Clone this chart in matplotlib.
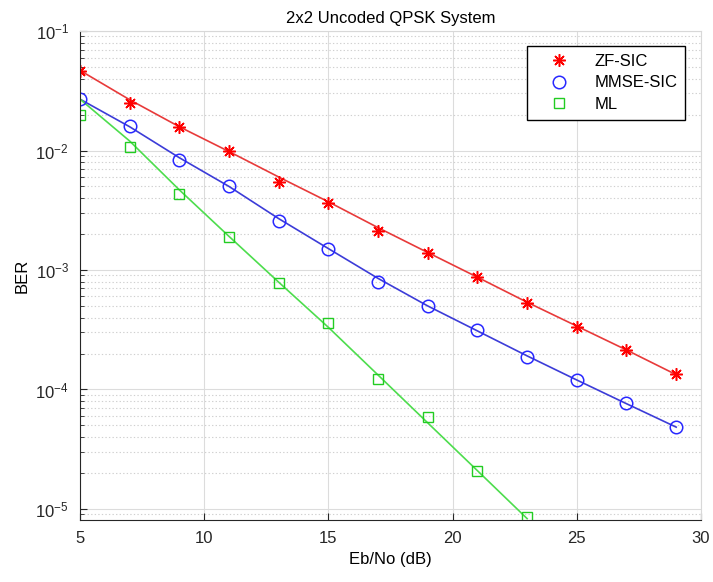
import matplotlib
matplotlib.use("Agg")
import matplotlib.pyplot as plt
import numpy as np
from matplotlib.ticker import LogLocator, NullFormatter

plt.rcParams['font.family'] = ['Liberation Sans', 'DejaVu Sans']
plt.rcParams['font.size'] = 12

# Eb/No points (dB)
ebno = [5, 7, 9, 11, 13, 15, 17, 19, 21, 23, 25, 27, 29]
ebno_ml = [5, 7, 9, 11, 13, 15, 17, 19, 21, 23]

# simulated BER (markers)
ber_zf_sim = [0.0466, 0.0251, 0.0158, 0.0099, 0.00548, 0.00366, 0.00213,
              0.00140, 8.7e-4, 5.3e-4, 3.31e-4, 2.14e-4, 1.34e-4]
ber_mmse_sim = [0.0268, 0.0161, 0.00834, 0.00508, 0.00257, 0.00149, 7.98e-4,
                5.02e-4, 3.13e-4, 1.86e-4, 1.19e-4, 7.66e-5, 4.83e-5]
ber_ml_sim = [0.0197, 0.01076, 0.00433, 0.00188, 7.83e-4, 3.62e-4, 1.22e-4,
              5.85e-5, 2.08e-5, 8.6e-6]

# curves (lines)
ber_zf_line = [0.0468, 0.0266, 0.0158, 0.0098, 0.0060, 0.00372, 0.00226,
               0.00140, 8.7e-4, 5.37e-4, 3.39e-4, 2.14e-4, 1.33e-4]
ber_mmse_line = [0.0269, 0.0158, 0.0087, 0.0050, 0.00269, 0.00151, 8.5e-4,
                 5.0e-4, 3.09e-4, 1.91e-4, 1.20e-4, 7.6e-5, 4.84e-5]
ber_ml_line = [0.0269, 0.0120, 0.00468, 0.00191, 7.9e-4, 3.31e-4, 1.32e-4,
               5.25e-5, 2.09e-5, 8.3e-6]

fig = plt.figure(figsize=(7.13, 5.82), dpi=100)
ax = fig.add_axes([0.1122, 0.1065, 0.871, 0.8402])

# lines first, markers on top
ax.semilogy(ebno, ber_zf_line, color='#e83a3a', lw=1.2)
ax.semilogy(ebno, ber_mmse_line, color='#3c3cd8', lw=1.2)
ax.semilogy(ebno_ml, ber_ml_line, color='#4ddd4d', lw=1.2)

ax.semilogy(ebno, ber_zf_sim, linestyle='none', marker=(8, 2, 0), markersize=9,
            markeredgewidth=1.1, color='#ff0000', label='ZF-SIC')
ax.semilogy(ebno, ber_mmse_sim, linestyle='none', marker='o', markersize=9,
            markeredgewidth=1.1, markerfacecolor='none', color='#2828ff', label='MMSE-SIC')
ax.semilogy(ebno_ml, ber_ml_sim, linestyle='none', marker='s', markersize=7,
            markeredgewidth=1.0, markerfacecolor='none', color='#22cc22', label='ML')

ax.set_xlim(5, 30)
ax.set_ylim(8.08e-6, 1e-1)
ax.set_xticks([5, 10, 15, 20, 25, 30])
ax.yaxis.set_major_locator(LogLocator(base=10, numticks=10))
ax.yaxis.set_minor_locator(LogLocator(base=10, subs=np.arange(2, 10), numticks=20))
ax.yaxis.set_minor_formatter(NullFormatter())

ax.grid(True, which='major', color='#dcdcdc', linestyle='-', linewidth=0.8)
ax.grid(True, which='minor', axis='y', color='#d0d0d0', linestyle=(0, (1.2, 2.0)), linewidth=0.8)
ax.set_axisbelow(True)

ax.tick_params(which='both', direction='in', top=False, right=False, colors='#262626')
ax.tick_params(which='major', length=5, pad=8, labelsize=12)
ax.tick_params(which='minor', length=3)
ax.spines['left'].set_color('#262626')
ax.spines['bottom'].set_color('#262626')
ax.spines['top'].set_color('#d8d8d8')
ax.spines['right'].set_color('#d8d8d8')

ax.set_title('2x2 Uncoded QPSK System', fontsize=12, pad=6)
ax.set_xlabel('Eb/No (dB)', fontsize=12)
ax.set_ylabel('BER', fontsize=12)

leg = ax.legend(loc='upper right', bbox_to_anchor=(0.974, 0.969), borderaxespad=0,
                fancybox=False, edgecolor='black', framealpha=1, handlelength=2.9,
                handletextpad=0.7, labelspacing=0.4, borderpad=0.45, fontsize=12)
leg.get_frame().set_linewidth(1.0)

fig.savefig('out.png', dpi=100)
